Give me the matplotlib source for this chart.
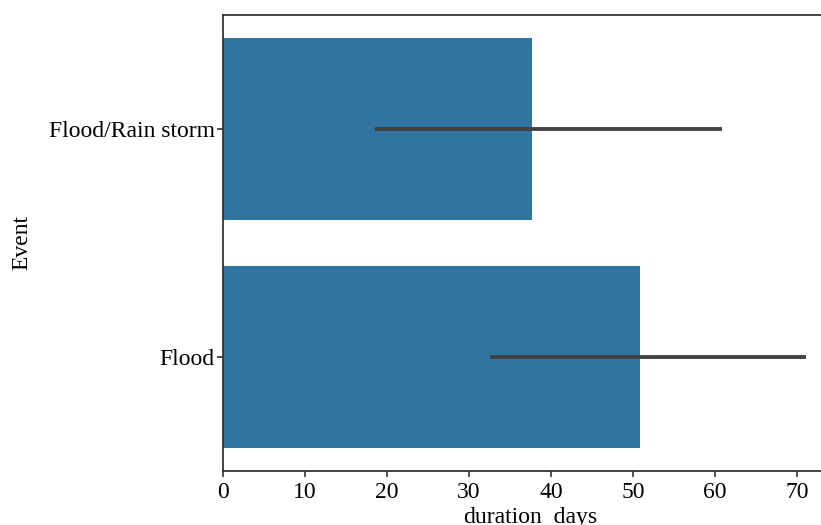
import matplotlib
matplotlib.use("Agg")
import matplotlib.pyplot as plt

# values
events = ["Flood/Rain storm", "Flood"]
mean_days = [37.7, 50.9]
ci_low = [18.5, 32.5]
ci_high = [60.8, 71.1]

plt.rcParams['font.family'] = ['Liberation Serif', 'DejaVu Serif']

fig = plt.figure(figsize=(8.21, 5.25), dpi=100)
# axes run past the right edge, like the cropped original
ax = fig.add_axes([223 / 821, 54 / 525, 640 / 821, 456 / 525])

pos = range(len(events))
ax.barh(pos, mean_days, height=0.8, color="#3274a1")
for p, lo, hi in zip(pos, ci_low, ci_high):
    ax.plot([lo, hi], [p, p], color="#424242", lw=2.8, solid_capstyle="butt")

ax.set_yticks(list(pos))
ax.set_yticklabels(events)
ax.set_ylim(1.5, -0.5)
ax.set_xlim(0, 640 / 8.2)
ax.set_xticks(range(0, 80, 10))

ax.set_xlabel("duration_days", fontsize=17)
ax.xaxis.set_label_coords(0.48, -0.080)
ax.set_ylabel("Event", fontsize=17, labelpad=12)
ax.tick_params(axis="x", labelsize=17, length=4, width=1.2, color="#333333", pad=4)
ax.tick_params(axis="y", labelsize=17, length=4, width=1.2, color="#333333", pad=2)
for s in ax.spines.values():
    s.set_color("#333333")
    s.set_linewidth(1.3)

fig.savefig("out.png", dpi=100)
